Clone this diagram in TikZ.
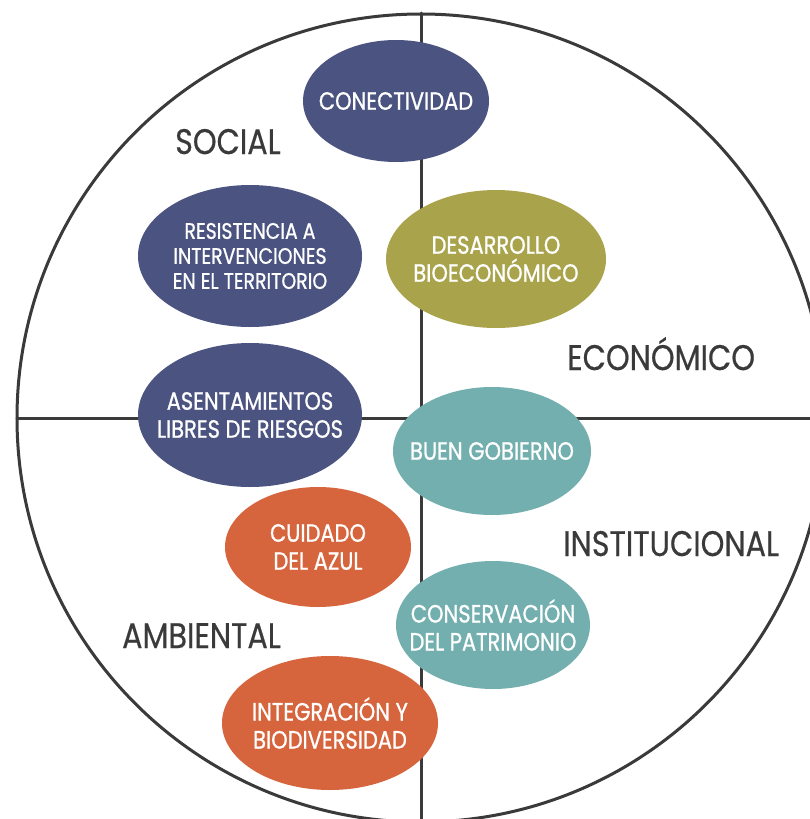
\documentclass[tikz,border=0pt]{standalone}
\usepackage{fontspec}
\setmainfont[FakeStretch=0.85]{Poppins}
\newfontfamily\bubblefont[FakeStretch=0.84,FakeBold=0.9]{Poppins}
\newfontfamily\areafont[FakeStretch=0.85,FakeBold=0.5]{Poppins}
\usetikzlibrary{shapes.geometric}
\definecolor{ink}{HTML}{3A3A3A}
\definecolor{navy}{HTML}{4B5380}
\definecolor{olive}{HTML}{A9A44B}
\definecolor{teal}{HTML}{72AFAE}
\definecolor{rust}{HTML}{D6653D}
\begin{document}
\begin{tikzpicture}[x=1pt,y=-1pt,line cap=round,
	bubble/.style={ellipse,inner sep=0pt},
	bubtext/.style={inner sep=0pt,text=white,align=center,font=\bubblefont\fontsize{25}{28}\selectfont},
	area/.style={anchor=base west,inner sep=0pt,text=ink,font=\areafont\fontsize{35.5}{38}\selectfont}]
		\clip (0,0) rectangle (810,819);
		\fill[white] (0,0) rectangle (810,819);
		\coordinate (mid) at (421,418);
		\coordinate (top) at (421,13);
		\coordinate (bot) at (421,821);
		\coordinate (lft) at (17,418);
		\coordinate (rgt) at (825,418);
		\draw[ink,line width=3pt] (mid) circle[radius=404pt];
		\draw[ink,line width=3pt] (top) -- (bot);
		\draw[ink,line width=3pt] (lft) -- (rgt);
		\node[bubble,fill=navy,minimum width=186pt,minimum height=122pt] (conect) at (396,101) {};
		\node[bubble,fill=navy,minimum width=224pt,minimum height=142pt] (resist) at (250,256) {};
		\node[bubble,fill=olive,minimum width=220pt,minimum height=138pt] (desarr) at (496,259) {};
		\node[bubble,fill=navy,minimum width=224pt,minimum height=144pt] (asent) at (250,415) {};
		\node[bubble,fill=teal,minimum width=198pt,minimum height=128pt] (buen) at (492,451) {};
		\node[bubble,fill=rust,minimum width=186pt,minimum height=120pt] (cuidado) at (318,547) {};
		\node[bubble,fill=teal,minimum width=194pt,minimum height=128pt] (conserv) at (493,625) {};
		\node[bubble,fill=rust,minimum width=216pt,minimum height=134pt] (integr) at (330,723) {};
		\node[bubtext] (conect-t) at (conect) {CONECTIVIDAD};
		\node[bubtext,font=\bubblefont\fontsize{22.5}{25}\selectfont] (resist-t) at (resist) {RESISTENCIA A\\INTERVENCIONES\\EN EL TERRITORIO};
		\node[bubtext] (desarr-t) at (desarr) {DESARROLLO\\BIOECONÓMICO};
		\node[bubtext] (asent-t) at (asent) {ASENTAMIENTOS\\LIBRES DE RIESGOS};
		\node[bubtext] (buen-t) at (buen) {BUEN GOBIERNO};
		\node[bubtext] (cuidado-t) at (cuidado) {CUIDADO\\DEL AZUL};
		\node[bubtext] (conserv-t) at (conserv) {CONSERVACIÓN\\DEL PATRIMONIO};
		\node[bubtext] (integr-t) at (integr) {INTEGRACIÓN Y\\BIODIVERSIDAD};
		\node[area] (social) at (175,154) {SOCIAL};
		\node[area] (econ) at (567,370) {ECONÓMICO};
		\node[area] (inst) at (563,556) {INSTITUCIONAL};
		\node[area] (amb) at (122,648) {AMBIENTAL};
\end{tikzpicture}
\end{document}
